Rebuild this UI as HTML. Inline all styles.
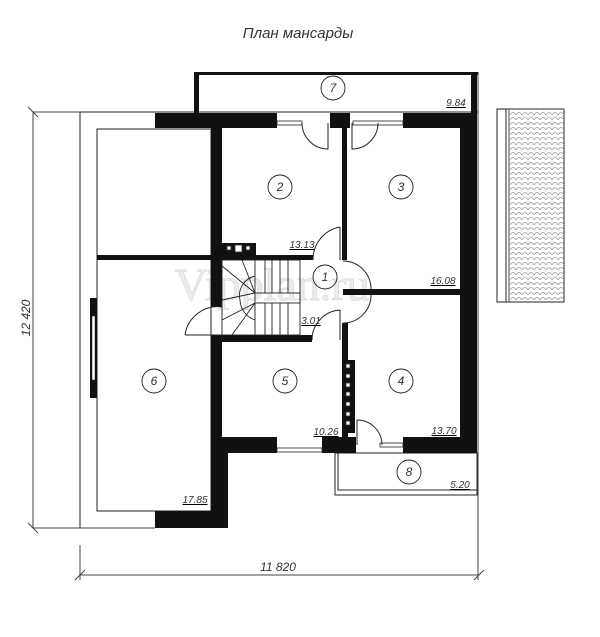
<!DOCTYPE html>
<html><head><meta charset="utf-8"><style>
body{margin:0;background:#fff;width:600px;height:637px;overflow:hidden}
svg{display:block}
text{font-family:"Liberation Sans",sans-serif;font-style:italic;fill:#333}
</style></head><body>
<svg width="600" height="637" viewBox="0 0 600 637" xmlns="http://www.w3.org/2000/svg">
<defs>
<pattern id="tile" width="6" height="5" patternUnits="userSpaceOnUse">
<path d="M0 5 Q3 0 6 5" fill="none" stroke="#999" stroke-width="0.8"/>
</pattern>
</defs>
<text x="298" y="38" font-size="15" text-anchor="middle" fill="#222">План мансарды</text>

<!-- dimension lines -->
<g stroke="#444" stroke-width="1" fill="none">
<line x1="33" y1="112" x2="33" y2="528"/>
<line x1="28" y1="107" x2="38" y2="117"/>
<line x1="28" y1="523" x2="38" y2="533"/>
<line x1="33" y1="112" x2="80" y2="112"/>
<line x1="33" y1="528" x2="155" y2="528"/>
<line x1="80" y1="545" x2="80" y2="580"/>
<line x1="80" y1="575" x2="479" y2="575"/>
<line x1="75" y1="580" x2="85" y2="570"/>
<line x1="474" y1="580" x2="484" y2="570"/>
<line x1="478" y1="72" x2="478" y2="580"/>
</g>
<text x="278" y="571" font-size="12" text-anchor="middle">11 820</text>
<text transform="translate(30,318) rotate(-90)" font-size="12" text-anchor="middle">12 420</text>

<!-- watermark -->
<text x="272" y="300" font-size="46" text-anchor="middle" style="font-family:'Liberation Serif',serif;font-style:normal;fill:#ececec;stroke:#dcdcdc;stroke-width:0.8">Vipplan.ru</text>

<!-- outer thin lines -->
<g stroke="#222" stroke-width="1" fill="none">
<line x1="80" y1="112" x2="80" y2="528"/>
<line x1="80" y1="112" x2="196" y2="112"/>
<rect x="97" y="129" width="114" height="382"/>
<line x1="196" y1="112" x2="478" y2="112"/>
<rect x="335" y="453" width="142" height="42"/>
<polyline points="338,453 338,490 477,490"/>
</g>

<!-- balcony 7 -->
<rect x="194" y="72" width="284" height="3" fill="#111"/>
<rect x="194" y="72" width="5" height="41" fill="#111"/>

<!-- walls -->
<g fill="#111">
<rect x="155" y="113" width="122" height="15"/>
<rect x="330" y="113" width="20" height="15"/>
<rect x="403" y="113" width="70" height="15"/>
<rect x="460" y="113" width="13" height="340"/>
<rect x="471" y="72" width="6" height="381"/>
<rect x="211" y="128" width="11" height="179"/>
<rect x="211" y="335" width="11" height="118"/>
<rect x="211" y="437" width="17" height="91"/>
<rect x="155" y="511" width="73" height="17"/>
<rect x="97" y="255" width="114" height="5"/>
<rect x="222" y="255" width="91" height="5"/>
<rect x="222" y="243" width="34" height="13"/>
<rect x="342" y="128" width="5" height="132"/>
<rect x="343" y="289" width="117" height="6"/>
<rect x="222" y="335" width="90" height="7"/>
<rect x="342" y="323" width="6" height="114"/>
<rect x="342" y="360" width="13" height="73"/>
<rect x="211" y="437" width="66" height="16"/>
<rect x="322" y="437" width="34" height="16"/>
<rect x="403" y="437" width="70" height="16"/>
<rect x="90" y="298" width="7" height="100"/>
</g>
<rect x="92" y="316" width="3" height="64" fill="#fff" stroke="#222" stroke-width="0.5"/>
<g fill="#fff" stroke="#333" stroke-width="0.8">
<rect x="227" y="246" width="4" height="4"/><rect x="235" y="245" width="7" height="7"/><rect x="246" y="246" width="4" height="4"/>
<rect x="346" y="364" width="4" height="4"/><rect x="346" y="374" width="4" height="4"/><rect x="346" y="383" width="4" height="4"/><rect x="346" y="392" width="4" height="4"/><rect x="346" y="402" width="4" height="4"/><rect x="346" y="412" width="4" height="4"/><rect x="346" y="421" width="4" height="4"/>
</g>
<!-- windows -->
<g fill="#fff" stroke="#222" stroke-width="0.8">
<rect x="277" y="121" width="25" height="4"/>
<rect x="353" y="121" width="50" height="4"/>
<rect x="277" y="448" width="45" height="4"/>
<rect x="380" y="443" width="23" height="4"/>
</g>
<!-- doors -->
<g stroke="#222" stroke-width="1" fill="none">
<path d="M328 123 V149 A26 26 0 0 1 302 123"/>
<path d="M352 123 V149 A26 26 0 0 0 378 123"/>
<path d="M340 227 V260 M340 227 A33 33 0 0 0 313 260"/>
<path d="M343 261 A28 28 0 0 1 371 289"/>
<path d="M371 295 A28 28 0 0 1 343 323"/>
<path d="M340 310 V340 M340 310 A30 30 0 0 0 312 340"/>
<path d="M185 335 H222 M222 307 A33 33 0 0 0 185 335"/>
<path d="M357 420 V445 M357 420 A25 25 0 0 1 382 445"/>
</g>
<!-- stairs -->
<g stroke="#222" stroke-width="0.9" fill="none">
<rect x="222" y="260" width="78" height="75"/>
<rect x="255" y="293" width="45" height="10"/>
<path d="M255 260 V293 M265 260 V293 M272 260 V293 M280 260 V293 M288 260 V293"/>
<path d="M255 303 V335 M265 303 V335 M272 303 V335 M280 303 V335 M288 303 V335"/>
<path d="M255 293 L222 266 M255 293 L242 260 M255 293 L222 300 M255 303 L232 335 M255 303 L222 320"/>
<path d="M255 276 A20 20 0 0 0 240 300 A22 22 0 0 0 255 320"/>
</g>

<!-- roof tile -->
<rect x="497" y="109" width="67" height="193" fill="#fff" stroke="#222" stroke-width="1"/>
<rect x="510" y="109" width="54" height="193" fill="url(#tile)"/>
<line x1="506" y1="109" x2="506" y2="302" stroke="#222"/>
<line x1="509" y1="109" x2="509" y2="302" stroke="#444"/>

<!-- room circles -->
<g stroke="#222" stroke-width="0.9" fill="#fff">
<circle cx="333" cy="88" r="12"/><circle cx="280" cy="187" r="12"/><circle cx="401" cy="187" r="12"/>
<circle cx="325" cy="277" r="12" fill="none"/><circle cx="285" cy="381" r="12"/><circle cx="401" cy="381" r="12"/>
<circle cx="154" cy="381" r="12"/><circle cx="409" cy="472" r="12"/>
</g>
<g font-size="12" text-anchor="middle">
<text x="333" y="92">7</text><text x="280" y="191">2</text><text x="401" y="191">3</text>
<text x="325" y="281">1</text><text x="285" y="385">5</text><text x="401" y="385">4</text>
<text x="154" y="385">6</text><text x="409" y="476">8</text>
</g>
<g font-size="10" text-anchor="middle" text-decoration="underline">
<text x="456" y="106">9.84</text><text x="302" y="248">13.13</text><text x="443" y="284">16.08</text>
<text x="311" y="324">3.01</text><text x="326" y="435">10.26</text><text x="444" y="434">13.70</text>
<text x="460" y="488">5.20</text><text x="195" y="503">17.85</text>
</g>
</svg>
</body></html>
